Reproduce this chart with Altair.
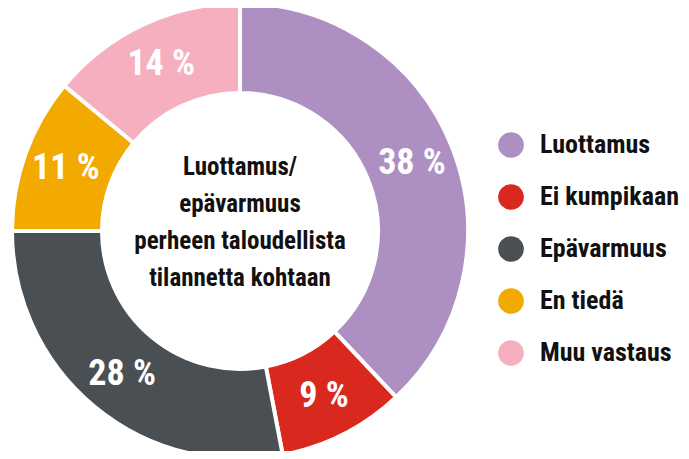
import altair as alt
import pandas as pd

categories = ["Luottamus", "Ei kumpikaan", "Epävarmuus", "En tiedä", "Muu vastaus"]
values = [38, 9, 28, 11, 14]
colors = ["#AD8FC2", "#D9291F", "#4A4F54", "#F2A900", "#F5AFBE"]
center_lines = ["Luottamus/", "epävarmuus", "perheen taloudellista", "tilannetta kohtaan"]

FONT = "'Roboto Condensed', 'DejaVu Sans Condensed', Roboto, sans-serif"

CX, CY = 232, 223

df = pd.DataFrame({
    "cat": categories,
    "value": values,
    "order": list(range(len(categories))),
    "label": [f"{v} %" for v in values],
})

base = alt.Chart(df).encode(
    theta=alt.Theta("value:Q", stack=True),
    order=alt.Order("order:Q"),
    x=alt.value(CX),
    y=alt.value(CY),
)

arcs = base.mark_arc(outerRadius=228, innerRadius=138, stroke="white", strokeWidth=4).encode(
    color=alt.Color(
        "cat:N",
        scale=alt.Scale(domain=categories, range=colors),
        sort=categories,
        legend=alt.Legend(
            title=None,
            orient="none",
            legendX=490,
            legendY=124,
            symbolType="circle",
            symbolSize=660,
            symbolStrokeWidth=0,
            labelFont=FONT,
            labelFontSize=26,
            labelFontWeight="bold",
            labelColor="#111111",
            labelOffset=16,
            rowPadding=26,
        ),
    )
)

labels = base.mark_text(
    radius=185, font=FONT, fontSize=36, fontWeight="bold", color="white"
).encode(text="label:N")

center = alt.Chart(pd.DataFrame({"a": [0]})).mark_text(
    text=center_lines,
    font=FONT,
    fontSize=25,
    fontWeight="bold",
    color="#111111",
    lineHeight=37,
    align="center",
    baseline="alphabetic",
).encode(x=alt.value(CX), y=alt.value(167))

chart = alt.layer(arcs, labels, center).properties(
    width=673, height=443, padding=0,
    autosize=alt.AutoSizeParams(type="none"),
).configure_view(stroke=None)

chart.save("out.html", embed_options={"renderer": "svg", "actions": False})
